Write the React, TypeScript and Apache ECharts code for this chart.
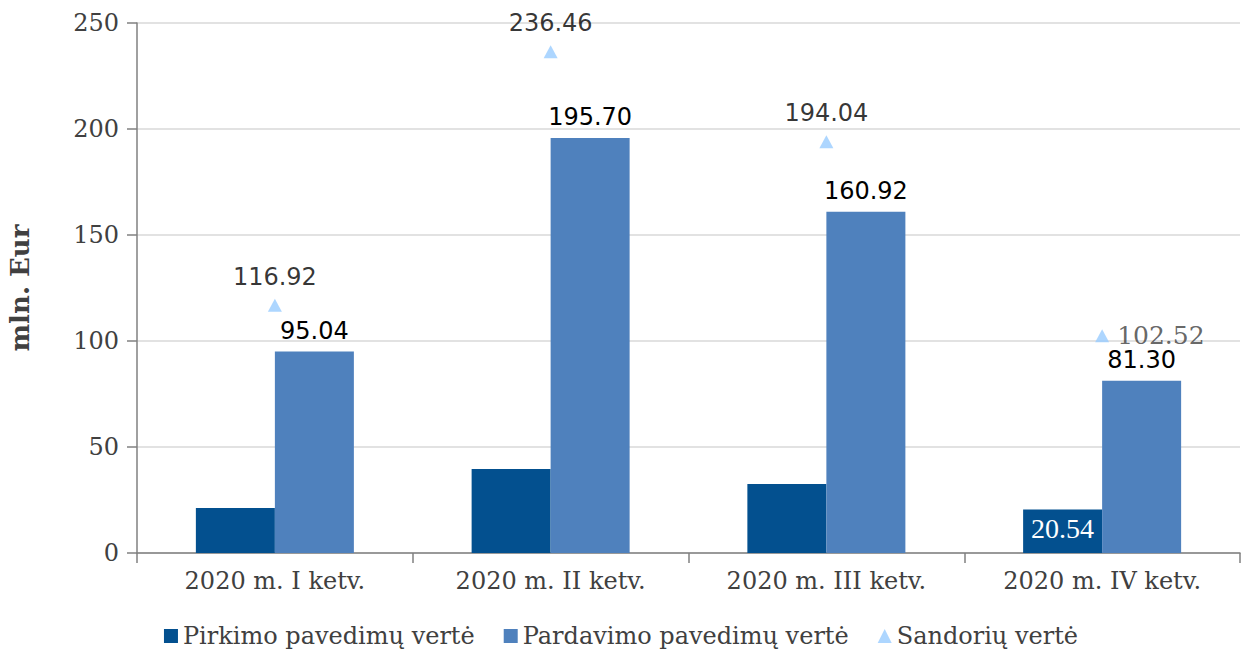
import React, { useEffect, useRef } from "react";
import * as echarts from "echarts";

const categories = ["2020 m. I ketv.", "2020 m. II ketv.", "2020 m. III ketv.", "2020 m. IV ketv."];
const pirkimo = [21.2, 39.6, 32.5, 20.54];
const pardavimo = [95.04, 195.7, 160.92, 81.3];
const sandoriu = [116.92, 236.46, 194.04, 102.52];
const yTicks = [0, 50, 100, 150, 200, 250];

const SERIF = "DejaVu Serif";
const SANS = "DejaVu Sans";

export default function App() {
  const ref = useRef<HTMLDivElement>(null);
  useEffect(() => {
    if (!ref.current) return;
    const chart = echarts.init(ref.current, null, { renderer: "svg" });
    const last = categories.length - 1;
    chart.setOption({
      animation: false,
      backgroundColor: "#ffffff",
      textStyle: { fontFamily: SERIF },
      grid: { left: 137, right: 2, top: 23, bottom: 105, containLabel: false, outerBoundsMode: "none" },
      legend: {
        bottom: 5,
        left: "center",
        itemWidth: 14,
        itemHeight: 14,
        itemGap: 29,
        textStyle: { fontFamily: SERIF, fontSize: 24, color: "#404040" },
        data: [
          { name: "Pirkimo pavedimų vertė", icon: "rect" },
          { name: "Pardavimo pavedimų vertė", icon: "rect" },
          { name: "Sandorių vertė", icon: "triangle" },
        ],
      },
      xAxis: {
        type: "category",
        data: categories,
        boundaryGap: true,
        axisLine: { show: true, lineStyle: { color: "#808080", width: 1.5 } },
        axisTick: { show: true, length: 10, lineStyle: { color: "#808080", width: 1.5 } },
        axisLabel: { fontFamily: SERIF, fontSize: 24, color: "#404040", margin: 16 },
        splitLine: { show: false },
      },
      yAxis: {
        type: "value",
        min: yTicks[0],
        max: yTicks[yTicks.length - 1],
        interval: 50,
        name: "mln. Eur",
        nameLocation: "middle",
        nameRotate: 90,
        nameGap: 104,
        nameTextStyle: { fontFamily: SERIF, fontSize: 26, fontWeight: "bold", color: "#404040" },
        axisLine: { show: true, lineStyle: { color: "#808080", width: 1.5 } },
        axisTick: { show: true, length: 10, lineStyle: { color: "#808080", width: 1.5 } },
        axisLabel: { fontFamily: SERIF, fontSize: 24, color: "#404040", margin: 18 },
        splitLine: { show: true, lineStyle: { color: "#D9D9D9", width: 1.5 } },
      },
      series: [
        {
          name: "Pirkimo pavedimų vertė",
          type: "bar",
          barGap: "0%",
          barCategoryGap: "42.7%",
          itemStyle: { color: "#03508F" },
          data: pirkimo.map((v, i) =>
            i === last
              ? {
                  value: v,
                  label: {
                    show: true,
                    position: "insideTop",
                    distance: 5,
                    color: "#ffffff",
                    fontFamily: "Liberation Serif",
                    fontSize: 28,
                    formatter: (p: any) => Number(p.value).toFixed(2),
                  },
                }
              : v
          ),
        },
        {
          name: "Pardavimo pavedimų vertė",
          type: "bar",
          barGap: "0%",
          barCategoryGap: "42.7%",
          itemStyle: { color: "#4F81BD" },
          label: {
            show: true,
            position: "top",
            distance: 9,
            color: "#000000",
            fontFamily: SANS,
            fontSize: 24,
            formatter: (p: any) => Number(p.value).toFixed(2),
          },
          data: pardavimo,
        },
        {
          name: "Sandorių vertė",
          type: "scatter",
          symbol: "triangle",
          symbolSize: [14, 13],
          itemStyle: { color: "#99CCFF" },
          label: {
            show: true,
            position: "top",
            distance: 10,
            color: "#000000",
            fontFamily: SANS,
            fontSize: 24,
            formatter: (p: any) => Number(p.value).toFixed(2),
          },
          data: sandoriu.map((v, i) =>
            i === last
              ? {
                  value: v,
                  label: {
                    show: true,
                    position: "right",
                    distance: 8,
                    color: "#404040",
                    fontFamily: SERIF,
                    fontSize: 25,
                    formatter: (p: any) => Number(p.value).toFixed(2),
                  },
                }
              : v
          ),
        },
      ],
    });
    return () => chart.dispose();
  }, []);
  return (
    <div
      ref={ref}
      style={{ position: "fixed", left: 0, top: 0, width: 1242, height: 658 }}
    />
  );
}
